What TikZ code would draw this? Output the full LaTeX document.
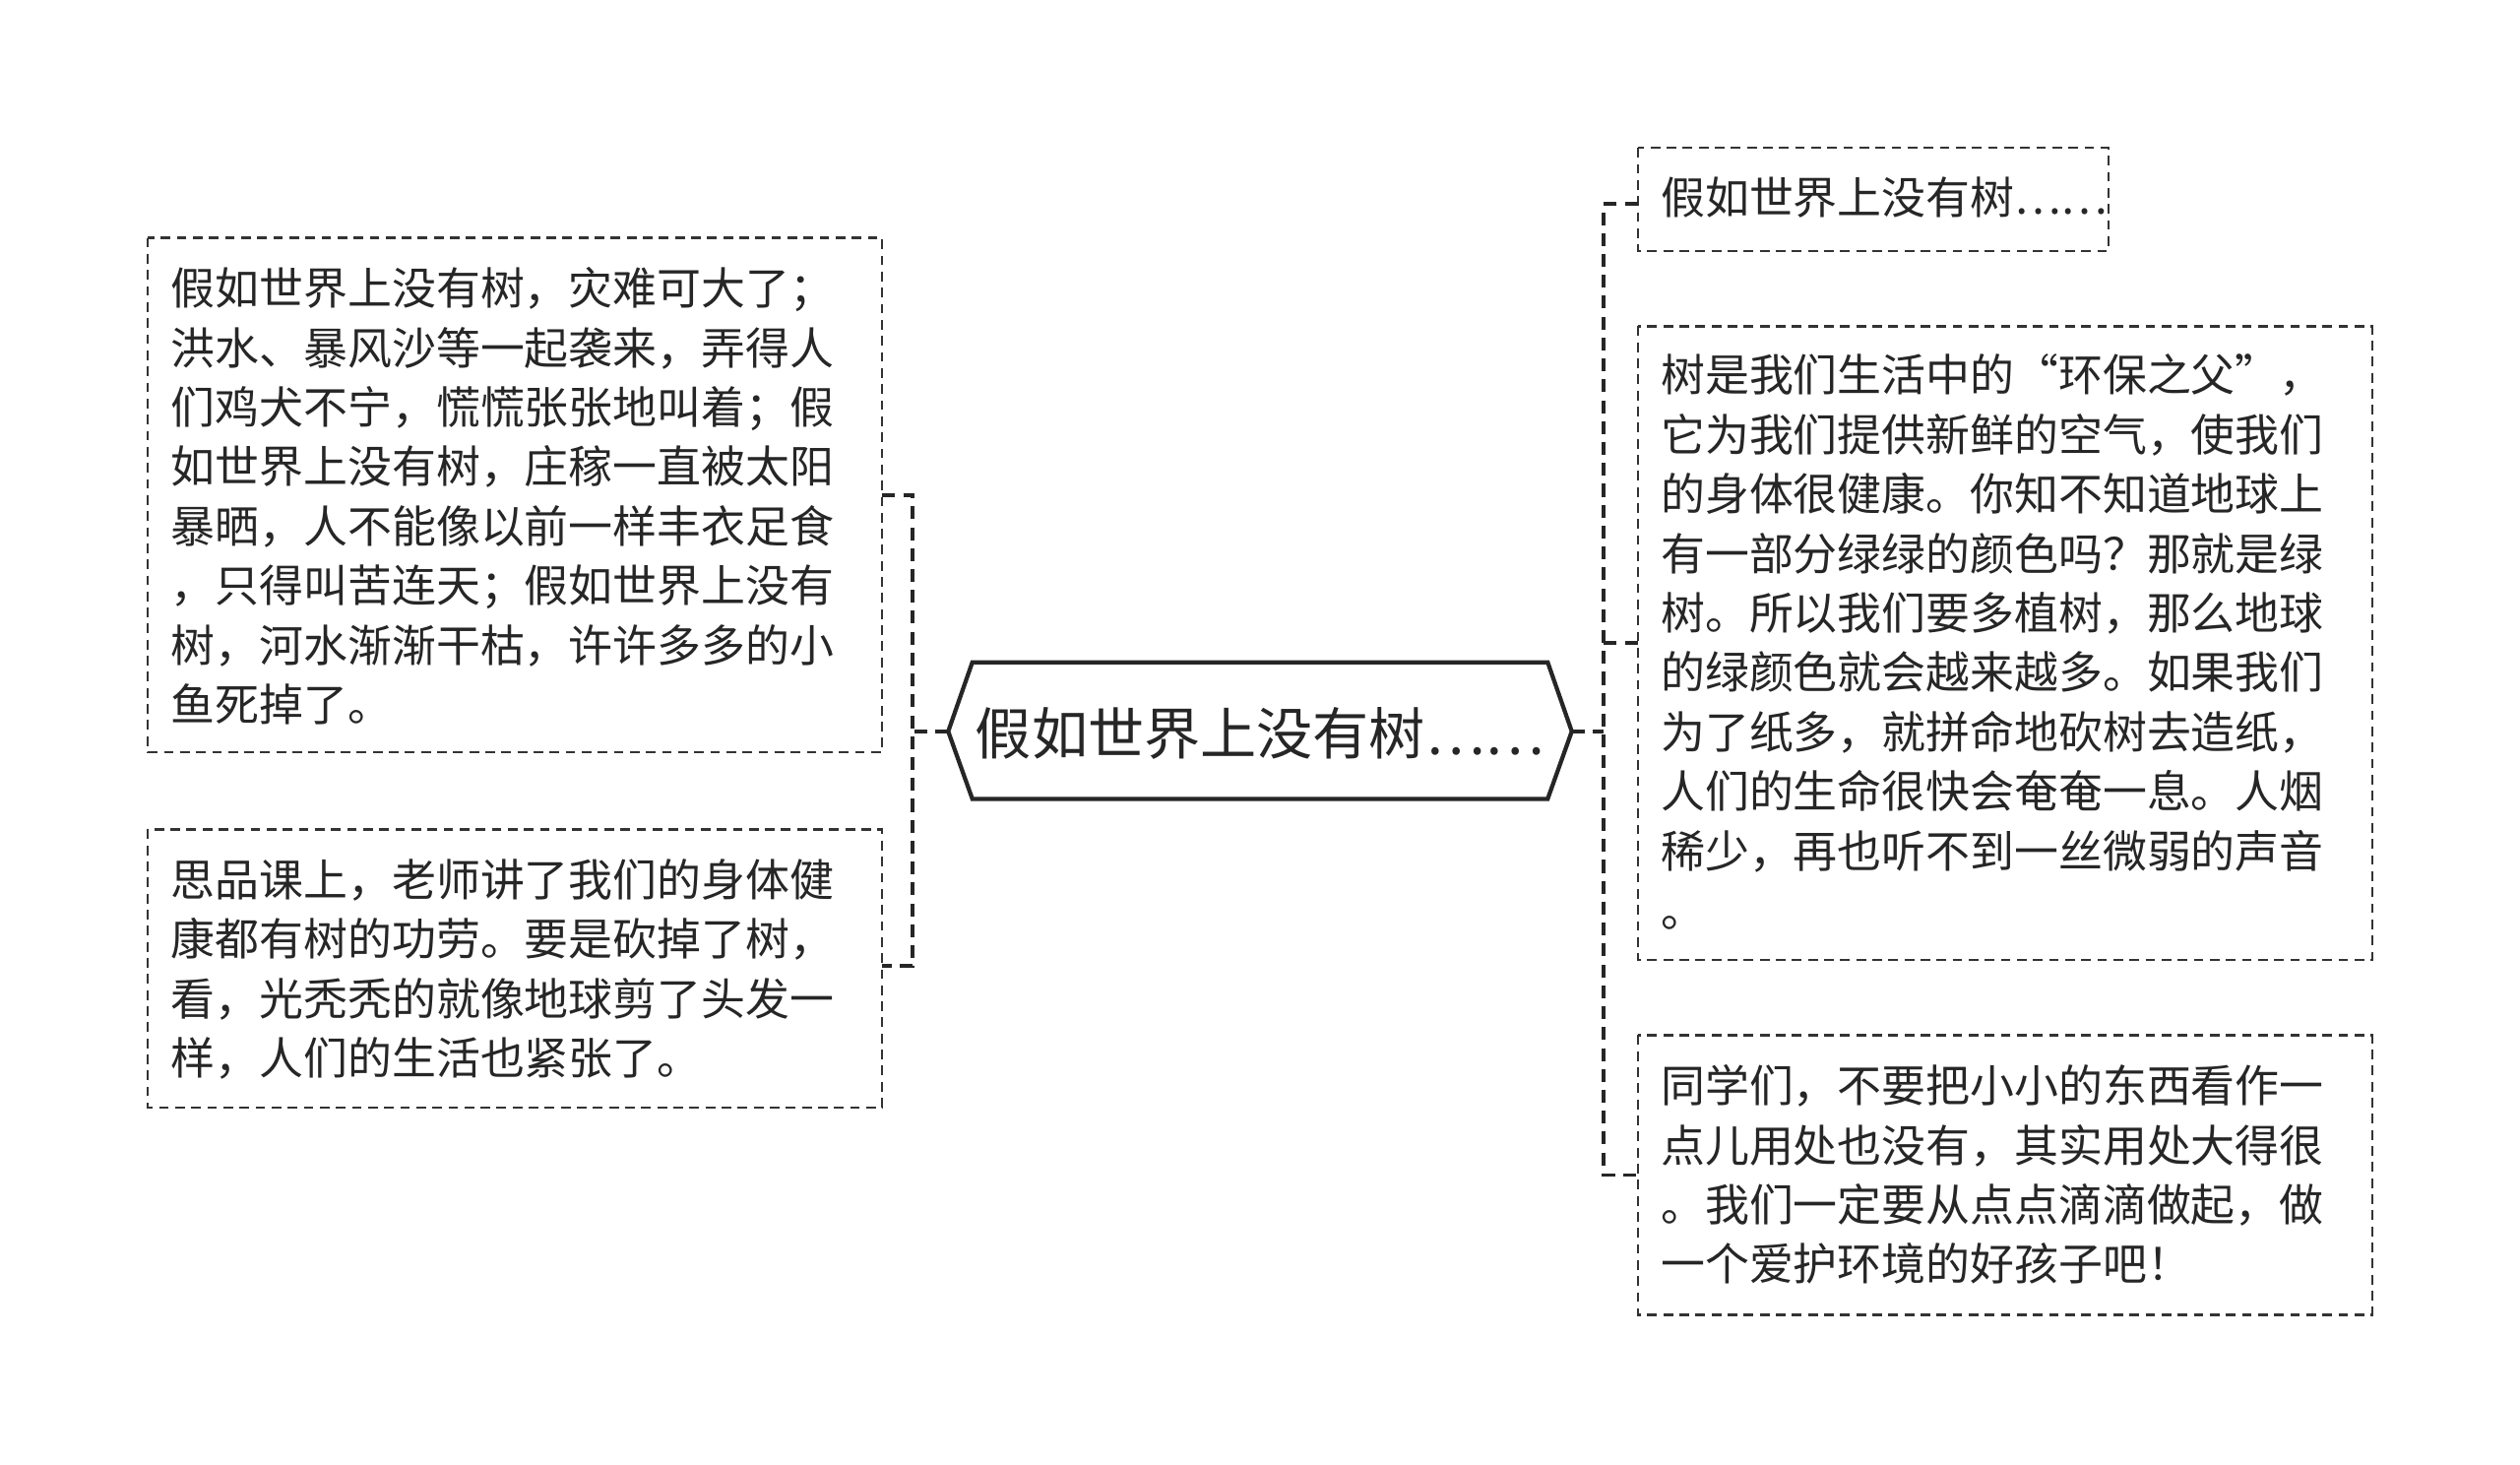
\documentclass[tikz,border=0pt]{standalone}
\usepackage{fontspec}
\setmainfont{Noto Sans CJK SC}
\begin{document}
\begin{tikzpicture}[x=0.5pt,y=-0.5pt,
  box/.style={draw=black!80,line width=0.7pt,dash pattern=on 3pt off 2pt},
  conn/.style={draw=black!85,line width=1.2pt,dash pattern=on 4pt off 2.5pt},
  txt/.style={anchor=north west,inner sep=0pt,align=left,font=\fontsize{13.75pt}{18.5pt}\selectfont,text=black!85}]
\useasboundingbox[fill=white] (0,0) rectangle (1568,911);
% center
\draw[line width=1.3pt,black!85] (590,455) -- (605,412) -- (963,412) -- (978,455) -- (963,497) -- (605,497) -- cycle;
\node[font=\fontsize{17.5pt}{20pt}\selectfont,text=black!85] (c) at (784,456) {假如世界上没有树……};
\coordinate (cl) at (590,455); \coordinate (cr) at (978,455);
% left boxes
\draw[box] (92,148) rectangle (549,468);
\node[txt] (l1) at (106,166) {假如世界上没有树，灾难可大了；\\洪水、暴风沙等一起袭来，弄得人\\们鸡犬不宁，慌慌张张地叫着；假\\如世界上没有树，庄稼一直被太阳\\暴晒，人不能像以前一样丰衣足食\\，只得叫苦连天；假如世界上没有\\树，河水渐渐干枯，许许多多的小\\鱼死掉了。};
\draw[box] (92,516) rectangle (549,689);
\node[txt] (l2) at (106,534) {思品课上，老师讲了我们的身体健\\康都有树的功劳。要是砍掉了树，\\看，光秃秃的就像地球剪了头发一\\样，人们的生活也紧张了。};
% right boxes
\draw[box] (1019,92) rectangle (1312,156);
\node[txt] (r1) at (1033,110) {假如世界上没有树……};
\draw[box] (1019,203) rectangle (1476,597);
\node[txt] (r2) at (1033,220) {树是我们生活中的“环保之父”，\\它为我们提供新鲜的空气，使我们\\的身体很健康。你知不知道地球上\\有一部分绿绿的颜色吗？那就是绿\\树。所以我们要多植树，那么地球\\的绿颜色就会越来越多。如果我们\\为了纸多，就拼命地砍树去造纸，\\人们的生命很快会奄奄一息。人烟\\稀少，再也听不到一丝微弱的声音\\。};
\draw[box] (1019,644) rectangle (1476,818);
\node[txt] (r3) at (1033,662) {同学们，不要把小小的东西看作一\\点儿用处也没有，其实用处大得很\\。我们一定要从点点滴滴做起，做\\一个爱护环境的好孩子吧！};
% connectors
\draw[conn] (cl) -- (568,455);
\draw[conn] (549,308) -- (568,308) -- (568,601) -- (549,601);
\draw[conn] (cr) -- (998,455);
\draw[conn] (1019,127) -- (998,127) -- (998,731) -- (1019,731);
\draw[conn] (998,400) -- (1019,400);
\end{tikzpicture}
\end{document}
